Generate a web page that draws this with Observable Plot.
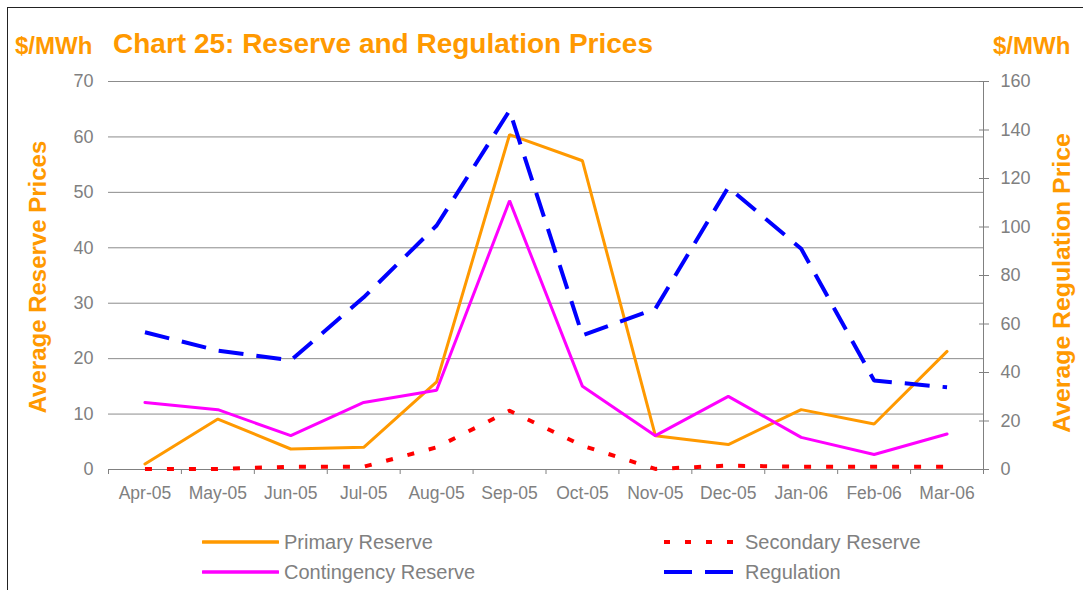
<!DOCTYPE html>
<html>
<head>
<meta charset="utf-8">
<script src="https://cdn.jsdelivr.net/npm/d3@7"></script>
<script src="https://cdn.jsdelivr.net/npm/@observablehq/plot@0.6"></script>
<style>
  html, body { margin: 0; padding: 0; background: #fff; }
  #wrap { position: relative; width: 1083px; height: 590px; overflow: hidden; font-family: "Liberation Sans", Arial, sans-serif; }
  #frame { position: absolute; left: 7px; top: 7px; width: 1100px; height: 600px; border-left: 1.5px solid #222; border-top: 1.5px solid #222; }
  #chart { position: absolute; left: 0; top: 0; }
  .orange { color: #FF9900; font-weight: bold; position: absolute; white-space: nowrap; }
  .legend { position: absolute; font-family: "Liberation Sans", Arial, sans-serif; font-size: 20px; color: #808080; white-space: nowrap; display: flex; align-items: center; }
  .legend svg { margin-right: 5px; }
</style>
</head>
<body>
<div id="wrap">
  <div id="frame"></div>
  <div id="chart"></div>
  <div class="orange" style="left:15px; top:32px; font-size:24px;">$/MWh</div>
  <div class="orange" style="left:113px; top:28px; font-size:28px;">Chart 25: Reserve and Regulation Prices</div>
  <div class="orange" style="left:993px; top:32px; font-size:24px;">$/MWh</div>
  <div class="orange" style="left:38px; top:277px; font-size:24px; transform:translate(-50%,-50%) rotate(-90deg);">Average Reserve Prices</div>
  <div class="orange" style="left:1062px; top:283px; font-size:24.8px; transform:translate(-50%,-50%) rotate(-90deg);">Average Regulation Price</div>
  <div id="legend"></div>
</div>
<script>
const months = ["Apr-05","May-05","Jun-05","Jul-05","Aug-05","Sep-05","Oct-05","Nov-05","Dec-05","Jan-06","Feb-06","Mar-06"];
const primaryReserve = [1.0, 9.1, 3.7, 4.0, 15.8, 60.4, 55.7, 6.1, 4.5, 10.8, 8.2, 21.3];
const secondaryReserve = [0.1, 0.1, 0.5, 0.5, 4.0, 10.6, 4.3, 0.1, 0.7, 0.5, 0.5, 0.5];
const contingencyReserve = [12.1, 10.8, 6.1, 12.1, 14.3, 48.5, 15.0, 6.1, 13.2, 5.8, 2.7, 6.4];
const regulation = [56.6, 49.0, 45.0, 71.0, 100.6, 148.0, 55.3, 66.3, 116.4, 91.0, 36.7, 33.9];
const leftTicks = [0, 10, 20, 30, 40, 50, 60, 70];
const rightTicks = [0, 20, 40, 60, 80, 100, 120, 140, 160];

const leftMax = 70, rightMax = 160;
const toLeft = v => v * leftMax / rightMax;
const rows = arr => arr.map((v, i) => ({x: i + 0.5, v}));

const gray = "#808080";
const chart = Plot.plot({
  width: 1083,
  height: 510,
  marginLeft: 108,
  marginRight: 100,
  marginTop: 81,
  marginBottom: 41,
  x: {domain: [0, months.length], axis: null},
  y: {domain: [0, leftMax], axis: null},
  style: {fontFamily: "'Liberation Sans', Arial, sans-serif", fontSize: "18px", color: gray, background: "transparent", overflow: "visible"},
  marks: [
    Plot.gridY(leftTicks.filter(d => d > 0), {stroke: "#8c8c8c", strokeOpacity: 1, strokeWidth: 1}),
    Plot.axisY(leftTicks, {anchor: "left", tickSize: 0, tickPadding: 15, fill: gray, fontSize: 18, label: null}),
    Plot.ruleX([months.length], {stroke: gray, strokeWidth: 1}),
    Plot.axisY(rightTicks.map(toLeft), {anchor: "right", tickSize: 5, tickPadding: 12, stroke: gray, fill: gray, fontSize: 18, label: null, tickFormat: d => Math.round(d * rightMax / leftMax)}),
    Plot.axisY(rightTicks.map(toLeft), {anchor: "right", tickSize: -5, stroke: gray, label: null, tickFormat: () => ""}),
    Plot.ruleY([0], {stroke: gray, strokeWidth: 1}),
    Plot.axisX(d3.range(0, months.length + 1), {tickSize: 5, stroke: gray, label: null, tickFormat: () => ""}),
    Plot.axisX(months.map((m, i) => i + 0.5), {tickSize: 0, tickPadding: 17, fill: gray, fontSize: 17.5, label: null, tickFormat: d => months[Math.floor(d)]}),
    Plot.line(rows(primaryReserve), {x: "x", y: "v", stroke: "#FF9900", strokeWidth: 3, strokeLinejoin: "miter"}),
    Plot.line(rows(contingencyReserve), {x: "x", y: "v", stroke: "#FF00FF", strokeWidth: 3, strokeLinejoin: "miter"}),
    Plot.line(rows(secondaryReserve), {x: "x", y: "v", stroke: "#FF0000", strokeWidth: 4, strokeDasharray: "7,15", strokeLinecap: "butt"}),
    Plot.line(rows(regulation), {x: "x", y: d => toLeft(d.v), stroke: "#0000FF", strokeWidth: 4, strokeDasharray: "25,13", strokeLinecap: "butt", strokeLinejoin: "miter"})
  ]
});
document.getElementById("chart").appendChild(chart);

const legendItems = [
  {name: "Primary Reserve", color: "#FF9900", dash: null, w: 3.5, left: 202, top: 542},
  {name: "Secondary Reserve", color: "#FF0000", dash: "6,15", w: 4, left: 663, top: 542},
  {name: "Contingency Reserve", color: "#FF00FF", dash: null, w: 3.5, left: 202, top: 572},
  {name: "Regulation", color: "#0000FF", dash: "28,13", w: 4, left: 663, top: 572}
];
const leg = document.getElementById("legend");
for (const it of legendItems) {
  const d = document.createElement("div");
  d.className = "legend";
  d.style.left = it.left + "px";
  d.style.top = (it.top - 13) + "px";
  d.style.height = "26px";
  d.innerHTML = `<svg width="77" height="10"><line x1="1" x2="76" y1="5" y2="5" stroke="${it.color}" stroke-width="${it.w}" ${it.dash ? `stroke-dasharray="${it.dash}"` : "stroke-linecap='round'"}/></svg><span>${it.name}</span>`;
  leg.appendChild(d);
}
</script>
</body>
</html>
